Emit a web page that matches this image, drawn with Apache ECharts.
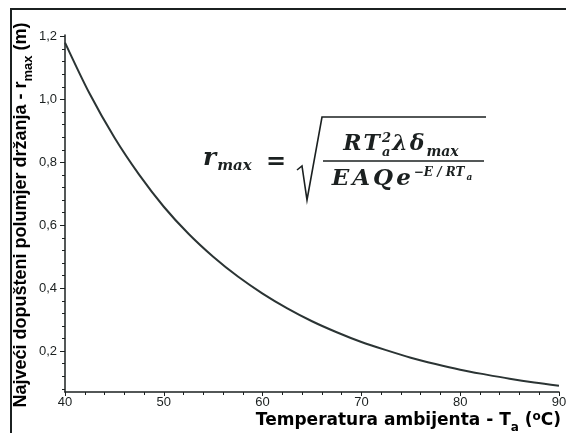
<!DOCTYPE html>
<html>
<head>
<meta charset="utf-8">
<script src="https://cdn.jsdelivr.net/npm/echarts@6/dist/echarts.min.js"></script>
<style>
  html, body { margin: 0; padding: 0; background: #fff; }
  #chart { width: 566px; height: 433px; }
</style>
</head>
<body>
<div id="chart"></div>
<script>
// vrijednosti ocitane sa slike
var tempC = [40, 42.5, 45, 47.5, 50, 52.5, 55, 57.5, 60, 62.5, 65, 67.5, 70, 72.5, 75, 77.5, 80, 82.5, 85, 87.5, 90];
var rMax = [1.181, 1.018, 0.879, 0.761, 0.659, 0.573, 0.500, 0.437, 0.383, 0.336, 0.295, 0.260, 0.229, 0.203, 0.179, 0.159, 0.141, 0.126, 0.112, 0.100, 0.090];
var yMajor = [0.2, 0.4, 0.6, 0.8, 1.0, 1.2];

// sitne crtice na y osi (svakih 0,04)
var yMinor = [];
for (var k = 2; k <= 30; k++) {
    if (k % 5 != 0) yMinor.push(Math.round(k * 4) / 100);
}

var ink = '#1b2020';
var ctx = document.createElement('canvas').getContext('2d');
function textW(font, t) {
    ctx.font = font;
    return ctx.measureText(t).width;
}

// niz tokena formule: [tekst, velicina, pomak po y, bez pomaka naprijed, uspravno]
function mathRow(tokens, x0, base, gap) {
    var x = x0;
    var els = [];
    tokens.forEach(function (t) {
        var size = t[1];
        var font = 'italic bold ' + size + 'px "DejaVu Serif"';
        if (t[4]) font = 'bold ' + size + 'px "DejaVu Serif"';
        els.push({
            type: 'text', x: x, y: base + (t[2] || 0) - 0.36 * size, silent: true,
            style: { text: t[0], font: font, fill: ink, textVerticalAlign: 'middle', verticalAlign: 'middle' }
        });
        if (!t[3]) x += textW(font, t[0]) + (t[2] ? 2 : (gap || 0));
    });
    return { els: els, width: x - x0 };
}

var data = tempC.map(function (t, i) { return [t, rMax[i]]; });

var graphics = [
    { type: 'line', shape: { x1: 10, y1: 9, x2: 566, y2: 9 }, style: { stroke: ink, lineWidth: 2 } },
    { type: 'line', shape: { x1: 11, y1: 8, x2: 11, y2: 433 }, style: { stroke: ink, lineWidth: 2 } },
    // naslov y osi
    {
        type: 'text', x: 21, y: 215, rotation: Math.PI / 2,
        style: {
            text: '{a|Najveći dopušteni polumjer držanja - r}{s|max}{a| (m)}',
            textAlign: 'center', align: 'center', textVerticalAlign: 'middle', verticalAlign: 'middle',
            rich: {
                a: { fontSize: 18, fontWeight: 'bold', fontFamily: 'Liberation Sans', color: ink, lineHeight: 28 },
                s: { fontSize: 13, fontWeight: 'bold', fontFamily: 'Liberation Sans', color: ink, lineHeight: 28, verticalAlign: 'bottom' }
            }
        }
    },
    // naslov x osi
    {
        type: 'text', x: 561, y: 421,
        style: {
            text: '{a|Temperatura ambijenta - T}{s|a}{a| (}{p|o}{a|C)}',
            textAlign: 'right', align: 'right', textVerticalAlign: 'middle', verticalAlign: 'middle',
            rich: {
                a: { fontSize: 17, fontWeight: 'bold', fontFamily: 'DejaVu Sans', color: ink, lineHeight: 26 },
                s: { fontSize: 12, fontWeight: 'bold', fontFamily: 'DejaVu Sans', color: ink, lineHeight: 26, verticalAlign: 'bottom' },
                p: { fontSize: 12, fontWeight: 'bold', fontFamily: 'DejaVu Sans', color: ink, lineHeight: 26, verticalAlign: 'top', padding: [3, 0, 0, 0] }
            }
        }
    },
    // korijen i razlomak
    { type: 'polyline', shape: { points: [[297, 170], [302, 166], [307, 200], [322, 117], [486, 117]] }, style: { stroke: ink, lineWidth: 1.6, fill: null } },
    { type: 'line', shape: { x1: 323, y1: 161, x2: 484, y2: 161 }, style: { stroke: ink, lineWidth: 1.6 } }
];

var lhs = mathRow([['r', 25], ['max', 15, 5]], 203, 167, 1);
var eq = mathRow([['=', 24, 0, false, true]], 266, 171);
var num = mathRow([['R', 22], ['T', 22], ['2', 13, -9, true], ['a', 13, 5], ['λ', 22], ['δ', 22], ['max', 14, 5]], 0, 152, 2);
var den = mathRow([['E', 23], ['A', 23], ['Q', 23], ['e', 23], ['−E / RT', 12, -10], ['a', 9, -6]], 0, 187, 3);

function shiftRow(row, cx) {
    var dx = cx - row.width / 2;
    row.els.forEach(function (e) { e.x += dx; });
    return row.els;
}

graphics = graphics.concat(lhs.els, eq.els, shiftRow(num, 402), shiftRow(den, 403));

var chart = echarts.init(document.getElementById('chart'));
var option = {
    backgroundColor: '#fff',
    animation: false,
    grid: { left: 65, right: 7, top: 35, bottom: 41, outerBoundsMode: 'none' },
    xAxis: {
        type: 'value', min: 40, max: 90, interval: 10,
        axisLine: { show: true, lineStyle: { color: ink, width: 1.5 } },
        axisTick: { show: true, length: 4, lineStyle: { color: ink } },
        minorTick: { show: true, splitNumber: 5, length: 3, lineStyle: { color: ink } },
        axisLabel: { color: ink, fontSize: 13, fontFamily: 'Liberation Sans', margin: 4 },
        splitLine: { show: false }
    },
    yAxis: [
        {
            type: 'value', min: 0.07, max: 1.205,
            axisLine: { show: true, lineStyle: { color: ink, width: 1.5 } },
            axisTick: { show: true, customValues: yMajor, length: 5, lineStyle: { color: ink } },
            axisLabel: {
                customValues: yMajor, color: ink, fontSize: 13, fontFamily: 'Liberation Sans', margin: 8,
                formatter: function (v) { return v.toFixed(1).replace('.', ','); }
            },
            splitLine: { show: false }
        },
        {
            type: 'value', min: 0.07, max: 1.205, position: 'left', offset: 0,
            axisLine: { show: false },
            axisTick: { show: true, customValues: yMinor, length: 3, lineStyle: { color: ink } },
            axisLabel: { show: false },
            splitLine: { show: false }
        }
    ],
    series: [{
        type: 'line',
        data: data,
        smooth: 0.3,
        showSymbol: false,
        lineStyle: { color: '#2b3434', width: 2 }
    }],
    graphic: graphics
};
chart.setOption(option);
</script>
</body>
</html>
